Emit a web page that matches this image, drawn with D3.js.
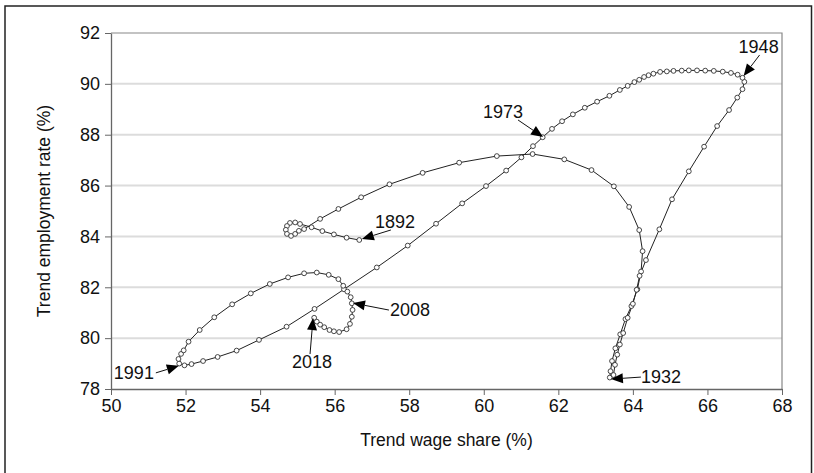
<html lang="en">
<head>
    <meta charset="UTF-8">
    <title>Trend wage share vs employment rate</title>
    <script src="https://d3js.org/d3.v7.min.js"></script>
    <style>
        body{ margin:0; background:#fff; }
        text{ font-family:"Liberation Sans", Arial, sans-serif; fill:#111; }
        .tick text{ font-size:18px; }
        .grid line{ stroke:#dcdcdc; stroke-width:2px; }
    </style>
</head>
<body>
<svg id="canvas" width="814" height="473"></svg>
<script>
    // trend wage share (%) and trend employment rate (%), 1892 -> 2018, in path order
    let wage = [56.66, 56.32, 55.98, 55.67, 55.38, 55.07, 54.94, 54.80, 54.72, 54.69, 54.72, 54.83, 54.94, 55.04, 55.18,
        55.61, 56.10, 56.71, 57.47, 58.36, 59.34, 60.35, 61.31, 62.16, 62.89, 63.49, 63.90, 64.17, 64.26,
        64.22, 64.12, 63.96, 63.80, 63.66, 63.53, 63.44, 63.40, 63.38,
        63.48, 63.52, 63.58, 63.65, 63.74, 63.86, 64.00, 64.10, 64.18, 64.35, 64.71, 65.05, 65.50, 65.91, 66.26, 66.58, 66.80, 66.94, 66.99,
        66.94, 66.81, 66.63, 66.41, 66.17, 65.94, 65.72, 65.50, 65.31, 65.09, 64.91, 64.73, 64.55, 64.42, 64.30, 64.17, 64.04, 63.86, 63.65, 63.37, 63.04, 62.71,
        62.39, 62.10, 61.83, 61.58, 61.32, 61.01, 60.60, 60.06, 59.42, 58.72, 57.96, 57.13, 56.25, 55.46, 54.71, 53.97, 53.37, 52.86, 52.47, 52.16, 51.97, 51.83,
        51.81, 51.88, 51.95, 52.08, 52.38, 52.77, 53.25, 53.75, 54.26, 54.75, 55.18, 55.52, 55.84, 56.10, 56.23, 56.34, 56.43, 56.46,
        56.48, 56.46, 56.41, 56.32, 56.12, 55.98, 55.86, 55.72, 55.61, 55.52, 55.45];
    let employment = [83.86, 83.95, 84.08, 84.21, 84.36, 84.49, 84.55, 84.53, 84.41, 84.26, 84.10, 84.02, 84.10, 84.22, 84.29,
        84.69, 85.08, 85.54, 86.05, 86.50, 86.90, 87.16, 87.24, 87.03, 86.61, 85.97, 85.16, 84.25, 83.42,
        82.62, 81.92, 81.26, 80.75, 80.15, 79.60, 79.10, 78.70, 78.45,
        78.55, 78.95, 79.35, 79.75, 80.20, 80.80, 81.35, 81.90, 82.45, 83.07, 84.28, 85.46, 86.56, 87.53, 88.34, 88.97, 89.46, 89.79, 90.08,
        90.24, 90.36, 90.43, 90.48, 90.51, 90.52, 90.53, 90.53, 90.52, 90.51, 90.49, 90.47, 90.40, 90.34, 90.27, 90.16, 90.07, 89.92, 89.76, 89.53, 89.30, 89.06,
        88.80, 88.53, 88.23, 87.90, 87.55, 87.11, 86.59, 85.98, 85.30, 84.50, 83.64, 82.78, 81.92, 81.15, 80.45, 79.93, 79.51, 79.26, 79.10, 78.98, 78.93, 79.00,
        79.18, 79.38, 79.52, 79.86, 80.32, 80.82, 81.33, 81.76, 82.13, 82.39, 82.55, 82.58, 82.49, 82.32, 82.06, 81.83, 81.61, 81.37,
        81.11, 80.84, 80.56, 80.35, 80.24, 80.27, 80.32, 80.43, 80.53, 80.65, 80.80];

    let xTicks = [50, 52, 54, 56, 58, 60, 62, 64, 66, 68];
    let yTicks = [78, 80, 82, 84, 86, 88, 90, 92];

    // annotated years and the points their arrows point at
    let labelYears = ["1892", "1932", "1948", "1973", "1991", "2008", "2018"];
    let labelWage = [56.73, 63.41, 66.97, 61.59, 51.82, 56.49, 55.42];
    let labelEmployment = [83.90, 78.39, 90.31, 87.91, 78.91, 81.38, 80.79];

    let svg = d3.select('#canvas');
    let mLeft = 111, mRight = 782, mTop = 33, mBottom = 389;

    let x = d3.scaleLinear().domain([50, 68]).range([mLeft, mRight]);
    let y = d3.scaleLinear().domain([78, 92]).range([mBottom, mTop]);

    // outer frame (bottom edge is cut off in the original)
    svg.append('rect').attr('x', 5).attr('y', 6).attr('width', 806.5).attr('height', 480)
        .attr('fill', 'none').attr('stroke', '#222').attr('stroke-width', 1.5);

    // grid
    svg.append('g').attr('class', 'grid').selectAll('line')
        .data(yTicks.filter(d => d > 78 && d < 92)).enter().append('line')
        .attr('x1', mLeft).attr('x2', mRight).attr('y1', d => y(d)).attr('y2', d => y(d));

    // plot box top/right
    svg.append('path').attr('d', `M${mLeft},${mTop}H${mRight}V${mBottom}`)
        .attr('fill', 'none').attr('stroke', '#888').attr('stroke-width', 1.2);

    let xAxis = svg.append('g').attr('transform', `translate(0,${mBottom})`)
        .call(d3.axisBottom(x).tickValues(xTicks).tickSize(6).tickPadding(4).tickSizeOuter(0));
    let yAxis = svg.append('g').attr('transform', `translate(${mLeft},0)`)
        .call(d3.axisLeft(y).tickValues(yTicks).tickSize(6).tickPadding(5).tickSizeOuter(0));
    [xAxis, yAxis].forEach(a => {
        a.select('.domain').attr('stroke', '#666').attr('stroke-width', 1.3);
        a.selectAll('.tick line').attr('stroke', '#666');
        a.selectAll('.tick text').attr('fill', '#111');
    });

    svg.append('text').attr('x', (mLeft + mRight) / 2).attr('y', 446)
        .attr('text-anchor', 'middle').style('font-size', '17.5px').text('Trend wage share (%)');
    svg.append('text').attr('transform', `translate(44,${(mTop + mBottom) / 2}) rotate(-90)`)
        .attr('text-anchor', 'middle').attr('dy', '0.35em').style('font-size', '17.5px')
        .text('Trend employment rate (%)');

    let pts = wage.map((w, i) => [w, employment[i]]);
    svg.append('path').datum(pts)
        .attr('d', d3.line().x(d => x(d[0])).y(d => y(d[1])))
        .attr('fill', 'none').attr('stroke', '#222').attr('stroke-width', 1);
    svg.append('g').selectAll('circle').data(pts).enter().append('circle')
        .attr('cx', d => x(d[0])).attr('cy', d => y(d[1])).attr('r', 2.4)
        .attr('fill', '#fff').attr('stroke', '#333').attr('stroke-width', 0.9);

    // label layout: text offset and arrow tail offset from the arrow tip, in px
    let layout = {
        "1892": {tx: 13, ty: -11, anchor: 'start', lx: 29, ly: -9},
        "1932": {tx: 30, ty: 4, anchor: 'start', lx: 30, ly: -2},
        "1948": {tx: -5, ty: -23, anchor: 'start', lx: 16, ly: -21},
        "1973": {tx: -60, ty: -19, anchor: 'start', lx: -25, ly: -17},
        "1991": {tx: -65, ty: 13, anchor: 'start', lx: -23, ly: 7},
        "2008": {tx: 37, ty: 13, anchor: 'start', lx: 36, ly: 7},
        "2018": {tx: -1, ty: 50, anchor: 'middle', lx: -3, ly: 36}
    };
    let ann = svg.append('g');
    labelYears.forEach((yr, i) => {
        let px = x(labelWage[i]), py = y(labelEmployment[i]);
        let L = layout[yr];
        let sx = px + L.lx, sy = py + L.ly;
        let ang = Math.atan2(py - sy, px - sx);
        let len = 12, hw = 5;
        let bx = px - len * Math.cos(ang), by = py - len * Math.sin(ang);
        ann.append('line').attr('x1', sx).attr('y1', sy).attr('x2', bx).attr('y2', by)
            .attr('stroke', '#111').attr('stroke-width', 1);
        ann.append('path')
            .attr('d', `M${px},${py}L${bx + hw * Math.sin(ang)},${by - hw * Math.cos(ang)}L${bx - hw * Math.sin(ang)},${by + hw * Math.cos(ang)}Z`)
            .attr('fill', '#000');
        ann.append('text').attr('x', px + L.tx).attr('y', py + L.ty)
            .attr('text-anchor', L.anchor).style('font-size', '18px').text(yr);
    });
</script>
</body>
</html>
